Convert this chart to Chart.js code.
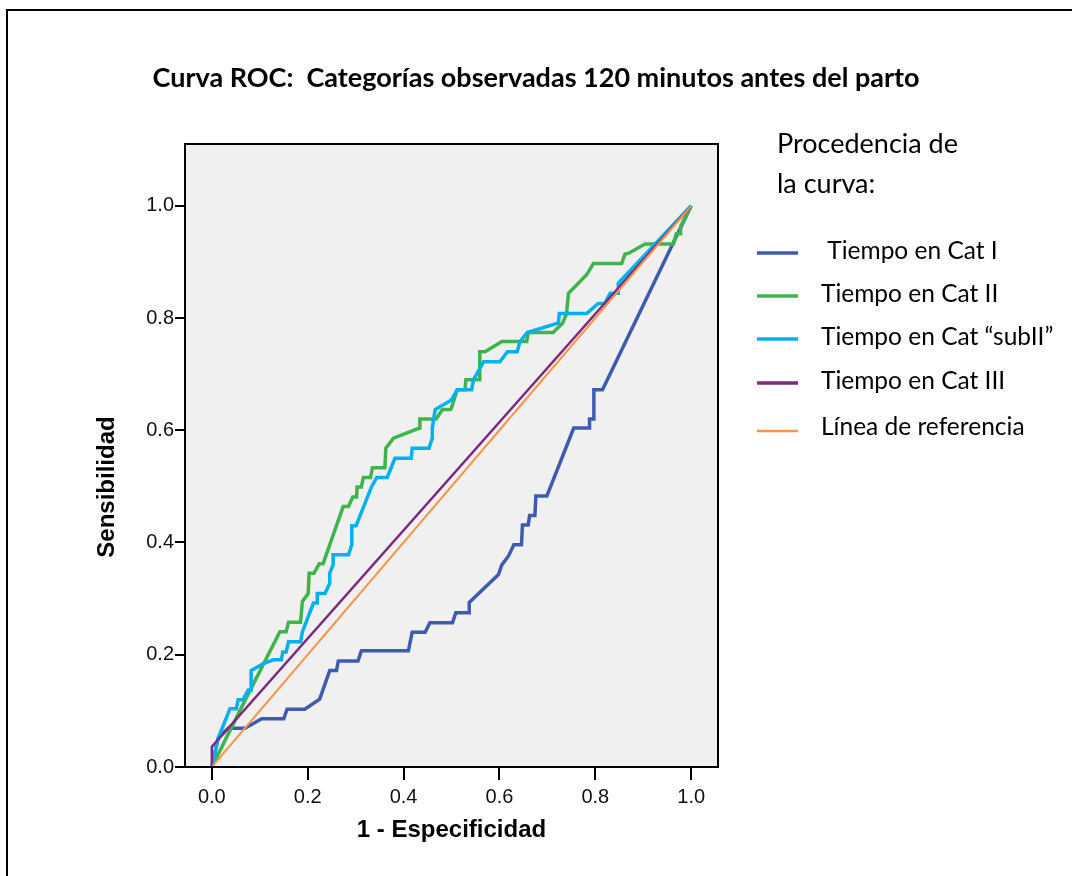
<!DOCTYPE html>
<html>
<head>
<meta charset="utf-8">
<script src="https://cdn.jsdelivr.net/npm/chart.js@4.4.1/dist/chart.umd.min.js"></script>
<style>
  html, body { margin: 0; padding: 0; background: #ffffff; }
  #wrap { width: 1072px; height: 876px; position: relative; }
</style>
</head>
<body>
<div id="wrap"><canvas id="roc" width="1072" height="876"></canvas></div>
<script>
// ---- Texts ----
const chartTitle = 'Curva ROC:  Categorías observadas 120 minutos antes del parto';
const legendTitle = ['Procedencia de', 'la curva:'];
const xAxisTitle = '1 - Especificidad';
const yAxisTitle = 'Sensibilidad';
const tickValues = [0.0, 0.2, 0.4, 0.6, 0.8, 1.0];
const seriesLabels = [' Tiempo en Cat I', 'Tiempo en Cat II', 'Tiempo en Cat \u201csubII\u201d', 'Tiempo en Cat III', 'L\u00ednea de referencia'];

// ---- ROC curves: 1 - especificidad (x) and sensibilidad (y) ----
const catIx = [0, 0.013, 0.034, 0.069, 0.104, 0.150, 0.157, 0.194, 0.225, 0.246, 0.260, 0.264, 0.305, 0.312, 0.410, 0.418, 0.445, 0.455, 0.502, 0.509, 0.537, 0.537, 0.598, 0.605, 0.619, 0.630, 0.646, 0.648, 0.660, 0.663, 0.674, 0.676, 0.699, 0.755, 0.788, 0.788, 0.797, 0.797, 0.815, 1];
const catIy = [0, 0.051, 0.069, 0.069, 0.086, 0.086, 0.103, 0.103, 0.121, 0.172, 0.172, 0.189, 0.189, 0.207, 0.207, 0.240, 0.240, 0.257, 0.257, 0.275, 0.275, 0.293, 0.343, 0.360, 0.376, 0.396, 0.396, 0.431, 0.431, 0.448, 0.448, 0.483, 0.483, 0.604, 0.604, 0.620, 0.620, 0.672, 0.672, 1];

const catIIx = [0, 0.070, 0.142, 0.155, 0.160, 0.185, 0.189, 0.201, 0.203, 0.213, 0.224, 0.232, 0.274, 0.285, 0.294, 0.302, 0.303, 0.312, 0.316, 0.331, 0.335, 0.361, 0.363, 0.379, 0.433, 0.434, 0.468, 0.481, 0.498, 0.500, 0.512, 0.528, 0.530, 0.558, 0.559, 0.570, 0.605, 0.657, 0.660, 0.712, 0.732, 0.740, 0.744, 0.782, 0.796, 0.855, 0.862, 0.869, 0.904, 0.963, 0.969, 0.977, 0.978, 1];
const catIIy = [0, 0.120, 0.241, 0.241, 0.258, 0.258, 0.295, 0.309, 0.345, 0.345, 0.362, 0.362, 0.464, 0.464, 0.481, 0.481, 0.499, 0.499, 0.516, 0.516, 0.533, 0.533, 0.568, 0.586, 0.604, 0.620, 0.620, 0.637, 0.637, 0.640, 0.672, 0.672, 0.690, 0.690, 0.740, 0.740, 0.758, 0.758, 0.774, 0.774, 0.791, 0.808, 0.844, 0.877, 0.897, 0.897, 0.914, 0.915, 0.932, 0.932, 0.950, 0.950, 0.963, 1];

const subIIx = [0, 0.013, 0.038, 0.051, 0.055, 0.065, 0.076, 0.082, 0.082, 0.107, 0.128, 0.145, 0.148, 0.155, 0.160, 0.185, 0.189, 0.212, 0.220, 0.220, 0.236, 0.246, 0.246, 0.253, 0.253, 0.285, 0.292, 0.292, 0.301, 0.333, 0.344, 0.366, 0.382, 0.416, 0.418, 0.453, 0.460, 0.460, 0.466, 0.500, 0.512, 0.542, 0.546, 0.567, 0.601, 0.617, 0.637, 0.643, 0.658, 0.723, 0.725, 0.782, 0.806, 0.820, 0.831, 0.848, 0.848, 1];
const subIIy = [0, 0.051, 0.104, 0.104, 0.120, 0.120, 0.137, 0.137, 0.172, 0.184, 0.191, 0.191, 0.205, 0.205, 0.223, 0.223, 0.241, 0.292, 0.292, 0.309, 0.309, 0.327, 0.345, 0.360, 0.378, 0.378, 0.396, 0.430, 0.430, 0.499, 0.516, 0.516, 0.550, 0.550, 0.568, 0.568, 0.586, 0.604, 0.637, 0.654, 0.672, 0.672, 0.690, 0.722, 0.722, 0.740, 0.740, 0.758, 0.774, 0.791, 0.808, 0.808, 0.826, 0.826, 0.844, 0.844, 0.862, 1];

const catIIIx = [0, 0, 1];
const catIIIy = [0, 0.036, 1];

const refX = [0, 1];
const refY = [0, 1];

const toPoints = (xs, ys) => xs.map((x, i) => ({ x: x, y: ys[i] }));

const colors = ['#3f5bb0', '#3db54a', '#00b0f0', '#7a2a80', '#f7964a'];
const widths = [3.5, 3.5, 3.5, 2.5, 2];

const series = [
  toPoints(catIx, catIy),
  toPoints(catIIx, catIIy),
  toPoints(subIIx, subIIy),
  toPoints(catIIIx, catIIIy),
  toPoints(refX, refY)
];
// drawing order: reference line on top, Cat I at the bottom
const layerOrder = [4, 3, 2, 1, 0];

const datasets = series.map((pts, i) => ({
  label: seriesLabels[i],
  data: pts,
  showLine: true,
  borderColor: colors[i],
  backgroundColor: colors[i],
  borderWidth: widths[i],
  pointRadius: 0,
  pointHoverRadius: 0,
  tension: 0,
  fill: false,
  order: layerOrder[i],
  borderJoinStyle: 'miter'
}));

const tickFont = { family: "'Liberation Sans', Arial, sans-serif", size: 20 };
const axisTitleFont = { family: "'Liberation Sans', Arial, sans-serif", size: 24, weight: 'bold' };

// Frame, plot background, heading, vertical axis title and legend
const decor = {
  id: 'decor',
  beforeDraw(chart) {
    const { ctx, chartArea: a } = chart;
    ctx.save();
    ctx.fillStyle = '#ffffff';
    ctx.fillRect(0, 0, chart.width, chart.height);
    ctx.fillStyle = '#f0f0f0';
    ctx.fillRect(a.left, a.top, a.right - a.left, a.bottom - a.top);
    ctx.restore();
  },
  afterDraw(chart) {
    const { ctx, chartArea: a } = chart;
    ctx.save();
    // outer frame
    ctx.fillStyle = '#000000';
    ctx.fillRect(6, 9, 2, chart.height - 9);
    ctx.fillRect(6, 9, chart.width - 6, 2);
    // plot frame
    ctx.strokeStyle = '#000000';
    ctx.lineWidth = 2;
    ctx.strokeRect(a.left, a.top, a.right - a.left, a.bottom - a.top);

    // heading
    ctx.fillStyle = '#000000';
    ctx.font = "bold 27px Lato, 'Open Sans', sans-serif";
    ctx.textAlign = 'center';
    ctx.textBaseline = 'alphabetic';
    ctx.fillText(chartTitle, 536, 87);

    // vertical axis title
    ctx.save();
    ctx.translate(107, 487);
    ctx.rotate(-Math.PI / 2);
    ctx.font = "bold 24px 'Liberation Sans', Arial, sans-serif";
    ctx.textAlign = 'center';
    ctx.textBaseline = 'middle';
    ctx.fillText(yAxisTitle, 0, 0);
    ctx.restore();

    // legend
    ctx.textAlign = 'left';
    ctx.textBaseline = 'alphabetic';
    ctx.font = "27px Lato, 'Open Sans', sans-serif";
    ctx.fillText(legendTitle[0], 777, 153);
    ctx.fillText(legendTitle[1], 777, 193);
    const rowY = [253, 296, 339, 383, 431];
    const baseY = [259, 302, 345, 389, 435];
    ctx.font = "24.5px Lato, 'Open Sans', sans-serif";
    chart.data.datasets.forEach((ds, i) => {
      ctx.strokeStyle = ds.borderColor;
      ctx.lineWidth = i === 4 ? 2.5 : 3.5;
      ctx.beginPath();
      ctx.moveTo(757, rowY[i]);
      ctx.lineTo(798, rowY[i]);
      ctx.stroke();
      ctx.fillStyle = '#000000';
      ctx.fillText(ds.label, 821, baseY[i]);
    });
    ctx.restore();
  }
};

new Chart(document.getElementById('roc'), {
  type: 'scatter',
  data: { datasets: datasets },
  options: {
    responsive: false,
    animation: false,
    devicePixelRatio: 1,
    layout: { padding: { top: 144, right: 354, bottom: 0, left: 0 } },
    plugins: {
      legend: { display: false },
      title: { display: false },
      tooltip: { enabled: false }
    },
    scales: {
      x: {
        type: 'linear',
        min: -0.056,
        max: 1.056,
        afterBuildTicks: (s) => { s.ticks = tickValues.map(v => ({ value: v })); },
        afterFit: (s) => { s.height = 109; },
        ticks: {
          callback: (v) => Number(v).toFixed(1),
          font: tickFont,
          color: '#111111',
          padding: 5,
          autoSkip: false,
          maxRotation: 0
        },
        grid: { display: true, drawOnChartArea: false, drawTicks: true, tickLength: 13, color: '#000000', lineWidth: 2 },
        border: { display: true, color: '#000000', width: 2 },
        title: { display: true, text: xAxisTitle, font: axisTitleFont, color: '#000000', padding: { top: 0, bottom: 31 } }
      },
      y: {
        type: 'linear',
        min: 0,
        max: 1.11,
        afterBuildTicks: (s) => { s.ticks = tickValues.map(v => ({ value: v })); },
        afterFit: (s) => { s.width = 185; },
        ticks: {
          callback: (v) => Number(v).toFixed(1),
          font: tickFont,
          color: '#111111',
          padding: 1,
          autoSkip: false
        },
        grid: { display: true, drawOnChartArea: false, drawTicks: true, tickLength: 10, color: '#000000', lineWidth: 2 },
        border: { display: true, color: '#000000', width: 2 },
        title: { display: false }
      }
    }
  },
  plugins: [decor]
});
</script>
</body>
</html>
